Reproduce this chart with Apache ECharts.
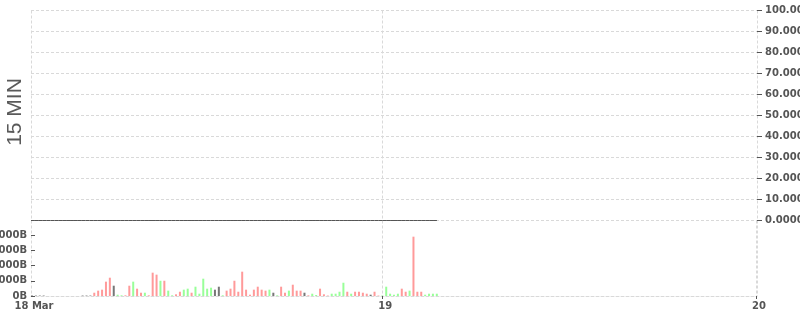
<!DOCTYPE html>
<html><head><meta charset="utf-8">
<script src="https://cdn.jsdelivr.net/npm/echarts@6/dist/echarts.min.js"></script>
<style>html,body{margin:0;padding:0;background:#fff}#c{width:800px;height:315px}</style>
</head><body><div id="c"></div>
<script>
const periodLabel = '15 MIN';
const monthNames = ['Jan','Feb','Mar','Apr','May','Jun','Jul','Aug','Sep','Oct','Nov','Dec'];
const firstBarTime = [2024, 2, 18, 1, 30];   // 18 Mar 01:30
const axisEndTime = [2024, 2, 20, 0, 0];     // 20 Mar 00:00
const barStepMinutes = 15;

// volume per 15-min bar
const volumes = [
  30,30,30,30,
  0,0,0,0,0,0,0,0,0,
  30,30,30,
  215,350,415,940,1200,
  675,85,45,45,675,940,480,215,215,45,
  1530,1400,1000,1000,350,45,110,280,415,480,
  215,610,150,1135,480,545,415,610,45,350,
  480,1000,280,1595,415,85,415,610,415,350,
  415,215,45,610,215,350,740,350,350,215,
  45,150,65,480,110,30,150,150,280,870,
  280,150,280,280,215,150,85,280,30,30,
  610,150,85,150,480,280,350,3890,280,280,
  85,150,150,150
];
// bar direction: u = up, d = down, n = unchanged
const directions = [
  'n','n','n','n',
  'n','n','n','n','n','n','n','n','n',
  'n','n','n',
  'd','d','d','d','d',
  'n','u','u','d','d','u','d','d','u','d',
  'd','d','u','d','u','u','d','d','u','u',
  'd','u','u','u','u','u','n','n','u','d',
  'd','d','d','d','d','d','d','d','d','d',
  'u','n','u','d','d','u','d','d','d','n',
  'd','u','u','d','d','d','u','u','u','u',
  'd','u','d','d','d','d','n','d','d','u',
  'u','u','u','u','d','d','u','d','d','d',
  'u','u','u','u'
];
// price line (flat at zero)
const prices = [
  0,0,0,0,0,0,0,0,0,0,0,0,0,0,0,0,0,0,0,0,0,0,0,0,0,0,0,0,0,0,
  0,0,0,0,0,0,0,0,0,0,0,0,0,0,0,0,0,0,0,0,0,0,0,0,0,0,0,0,0,0,
  0,0,0,0,0,0,0,0,0,0,0,0,0,0,0,0,0,0,0,0,0,0,0,0,0,0,0,0,0,0,
  0,0,0,0,0,0,0,0,0,0,0,0,0,0,0
];
const priceAxis = { min: 0, max: 100, step: 10 };
const volumeAxis = { step: 1000, topTick: 4000 };

const dirColors = { u: '#99ff99', d: '#ff9a9a', n: '#777777' };

const t0 = new Date(firstBarTime[0], firstBarTime[1], firstBarTime[2], firstBarTime[3], firstBarTime[4]).getTime();
const tEnd = new Date(axisEndTime[0], axisEndTime[1], axisEndTime[2], axisEndTime[3], axisEndTime[4]).getTime();
const times = volumes.map((_, i) => t0 + i * barStepMinutes * 60000);

const gridLine = { show: true, showMinLine: true, showMaxLine: true, lineStyle: { color: '#d9d9d9', type: [3, 2], width: 1 } };
const labelFont = { fontFamily: 'DejaVu Sans', fontWeight: 'bold', fontSize: 10, color: '#555' };
const DAY = 86400000;

const chart = echarts.init(document.getElementById('c'), null, { renderer: 'canvas' });
chart.setOption({
  animation: false,
  graphic: [{
    type: 'text', x: 15.5, y: 112, rotation: Math.PI / 2,
    style: { text: periodLabel, font: '21px "Liberation Sans"', fill: '#5a5a5a', align: 'center', verticalAlign: 'middle' }
  }],
  grid: [
    { left: 31, right: 43, top: 10.5, height: 210, containLabel: false, outerBoundsMode: 'none' },
    { left: 31, right: 43, top: 220.5, height: 75.5, containLabel: false, outerBoundsMode: 'none' }
  ],
  xAxis: [
    { type: 'time', gridIndex: 0, min: t0, max: tEnd, minInterval: DAY, maxInterval: DAY,
      axisLine: { show: false }, axisTick: { show: false }, axisLabel: { show: false },
      splitLine: gridLine },
    { type: 'time', gridIndex: 1, min: t0, max: tEnd, minInterval: DAY, maxInterval: DAY,
      position: 'bottom',
      axisLine: { show: true, lineStyle: { color: '#d9d9d9', type: [3, 2] } },
      axisTick: { show: true, length: 3, lineStyle: { color: '#555' } },
      splitLine: gridLine,
      axisLabel: Object.assign({}, labelFont, {
        margin: 5, padding: [0, 0, 0, 6],
        formatter: function (v) {
          const d = new Date(v);
          if (d.getHours() === 0 && d.getMinutes() === 0) return String(d.getDate());
          return '';
        }
      })
    },
    // start-of-range label axis (shows the first date)
    { type: 'value', gridIndex: 1, min: t0, max: tEnd, interval: tEnd - t0, position: 'bottom',
      axisLine: { show: false }, axisTick: { show: false }, splitLine: { show: false },
      axisLabel: Object.assign({}, labelFont, {
        margin: 5, padding: [0, 0, 0, 6], showMaxLabel: false,
        formatter: function (v) {
          if (Math.abs(v - t0) < 1000) { const d = new Date(t0); return d.getDate() + ' ' + monthNames[d.getMonth()]; }
          return '';
        }
      })
    }
  ],
  yAxis: [
    { type: 'value', gridIndex: 0, position: 'right', min: priceAxis.min, max: priceAxis.max, interval: priceAxis.step,
      axisLine: { show: false },
      axisTick: { show: true, length: 5, lineStyle: { color: '#555' } },
      splitLine: gridLine,
      axisLabel: Object.assign({}, labelFont, { margin: 8, formatter: v => v.toFixed(4) }) },
    { type: 'value', gridIndex: 1, position: 'left', min: 0,
      max: volumeAxis.topTick * 75.5 / 61, interval: volumeAxis.step,
      axisLine: { show: false },
      axisTick: { show: true, inside: true, length: 4, lineStyle: { color: '#555' } },
      splitLine: { show: false },
      axisLabel: Object.assign({}, labelFont, { margin: 4, showMaxLabel: false, formatter: v => v + 'B' }) }
  ],
  series: [
    { type: 'line', xAxisIndex: 0, yAxisIndex: 0, symbol: 'none', silent: true,
      lineStyle: { color: '#555', width: 1 },
      data: times.map((t, i) => [t, prices[i]]) },
    { type: 'bar', xAxisIndex: 1, yAxisIndex: 1, barWidth: 2, silent: true,
      data: times.map((t, i) => ({ value: [t, volumes[i]], itemStyle: { color: dirColors[directions[i]] } })) }
  ]
});
</script></body></html>
